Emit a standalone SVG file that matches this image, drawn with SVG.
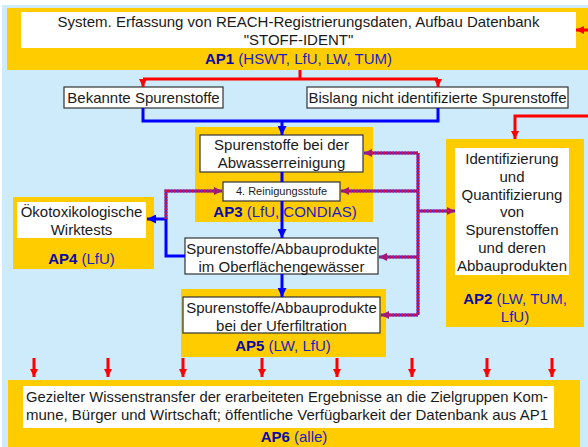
<svg xmlns="http://www.w3.org/2000/svg" width="588" height="447" viewBox="0 0 588 447">
<defs>
<style>
text{font-family:"Liberation Sans",Arial,sans-serif;fill:#1a1a1a;font-size:15px}
.c{text-anchor:middle}
.lbl{fill:#1c1cc8}
.b{font-weight:bold;fill:#0a0aa8}
.y{fill:#FFCC00}
.w{fill:#fff}
.wb{fill:#fff;stroke:#333;stroke-width:1.2}
.red{stroke:#f00;stroke-width:3;fill:none}
.blue{stroke:#00f;stroke-width:3;fill:none}
.pb{stroke:#5a20c8;stroke-width:3;fill:none}
.pr{stroke:#e0103a;stroke-width:3;fill:none;stroke-dasharray:1.5 1.5}
</style>
<marker id="ar" viewBox="0 0 10 10" refX="10" refY="5" markerWidth="8" markerHeight="8" markerUnits="userSpaceOnUse" orient="auto"><path d="M0,0 L10,5 L0,10 z" fill="#f00"/></marker>
<marker id="ab" viewBox="0 0 10 10" refX="10" refY="5" markerWidth="9" markerHeight="9" markerUnits="userSpaceOnUse" orient="auto"><path d="M0,0 L10,5 L0,10 z" fill="#00f"/></marker>
<marker id="ap" viewBox="0 0 10 10" refX="10" refY="5" markerWidth="8" markerHeight="8" markerUnits="userSpaceOnUse" orient="auto"><path d="M0,0 L10,5 L0,10 z" fill="#a01a7a"/></marker>
</defs>
<rect x="0" y="0" width="588" height="447" fill="#fff"/>
<rect x="2" y="5" width="586" height="442" fill="#CDEBFB"/>

<g id="ap1">
<rect class="y" x="7" y="8" width="581" height="62"/>
<rect class="w" x="21" y="12" width="555" height="36"/>
<text class="c" x="298.5" y="27">System. Erfassung von REACH-Registrierungsdaten, Aufbau Datenbank</text>
<text class="c" x="298.5" y="45">"STOFF-IDENT"</text>
<text class="c lbl" x="298.5" y="64"><tspan class="b">AP1</tspan> (HSWT, LfU, LW, TUM)</text>
</g>

<g id="bekannte">
<rect class="wb" x="64" y="87" width="159" height="21"/>
<text class="c" x="143.5" y="103">Bekannte Spurenstoffe</text>
</g>
<g id="bislang">
<rect class="wb" x="307" y="87" width="261" height="21"/>
<text class="c" x="437.5" y="103">Bislang nicht identifizierte Spurenstoffe</text>
</g>

<g id="ap3">
<rect class="y" x="195" y="127" width="178" height="95"/>
<rect class="wb" x="200" y="135" width="163" height="37"/>
<text class="c" x="281.5" y="150">Spurenstoffe bei der</text>
<text class="c" x="281.5" y="168">Abwasserreinigung</text>
<rect class="wb" x="223" y="182" width="117" height="19"/>
<text class="c" x="281.5" y="195" style="font-size:11px">4. Reinigungsstufe</text>
<text class="c lbl" x="285" y="217"><tspan class="b">AP3</tspan> (LfU, CONDIAS)</text>
</g>

<g id="ap4">
<rect class="y" x="13" y="197" width="141" height="72"/>
<rect class="w" x="17" y="202" width="129" height="36"/>
<text class="c" x="81.5" y="217">Ökotoxikologische</text>
<text class="c" x="81.5" y="235">Wirktests</text>
<text class="c lbl" x="81.5" y="264"><tspan class="b">AP4</tspan> (LfU)</text>
</g>

<g id="oberflaeche">
<rect class="wb" x="185" y="238" width="193" height="36"/>
<text class="c" x="281.5" y="254">Spurenstoffe/Abbauprodukte</text>
<text class="c" x="281.5" y="272">im Oberflächengewässer</text>
</g>

<g id="ap5">
<rect class="y" x="181" y="289" width="205" height="68"/>
<rect class="wb" x="183" y="297" width="197" height="36"/>
<text class="c" x="281.5" y="313">Spurenstoffe/Abbauprodukte</text>
<text class="c" x="281.5" y="331">bei der Uferfiltration</text>
<text class="c lbl" x="283" y="351"><tspan class="b">AP5</tspan> (LW, LfU)</text>
</g>

<g id="ap2">
<rect class="y" x="446" y="139" width="138" height="188"/>
<rect class="w" x="455" y="148" width="114" height="127"/>
<text class="c" x="512" y="164">Identifizierung</text>
<text class="c" x="512" y="182">und</text>
<text class="c" x="512" y="200">Quantifizierung</text>
<text class="c" x="512" y="217">von</text>
<text class="c" x="512" y="235">Spurenstoffen</text>
<text class="c" x="512" y="253">und deren</text>
<text class="c" x="512" y="271">Abbauprodukten</text>
<text class="c lbl" x="515" y="304"><tspan class="b">AP2</tspan> (LW, TUM,</text>
<text class="c lbl" x="515" y="322">LfU)</text>
</g>

<g id="ap6">
<rect class="y" x="8" y="380" width="572" height="67"/>
<rect class="w" x="23" y="386" width="531" height="42"/>
<text x="26" y="402" textLength="522" lengthAdjust="spacingAndGlyphs">Gezielter Wissenstransfer der erarbeiteten Ergebnisse an die Zielgruppen Kom-</text>
<text x="26" y="420" textLength="522" lengthAdjust="spacingAndGlyphs">mune, Bürger und Wirtschaft; öffentliche Verfügbarkeit der Datenbank aus AP1</text>
<text class="c lbl" x="294" y="442"><tspan class="b">AP6</tspan> (alle)</text>
</g>

<g id="connectors">
<path class="red" d="M300,70 V79"/>
<path class="red" d="M143,79 H438"/>
<path class="red" d="M143,79 V87" marker-end="url(#ar)"/>
<path class="red" d="M438,79 V87" marker-end="url(#ar)"/>
<path class="red" d="M588,30 H576" marker-end="url(#ar)"/>
<path class="red" d="M588,116 H515 V139" marker-end="url(#ar)"/>
<path class="blue" d="M143,108 V121 H438 V108"/>
<path class="blue" d="M282,121 V135" marker-end="url(#ab)"/>
<path class="blue" d="M282,172 V182"/>
<path class="blue" d="M282,201 V238" marker-end="url(#ab)"/>
<path class="blue" d="M282,274 V297" marker-end="url(#ab)"/>
<path class="blue" d="M185,256 H166 V219 H147" marker-end="url(#ab)"/>
<g>
<path class="pb" d="M418,153 V315"/>
<path class="pr" d="M418,153 V315"/>
<path class="pb" d="M418,153 H364" marker-end="url(#ap)"/>
<path class="pr" d="M418,153 H370"/>
<path class="pb" d="M418,191 H341" marker-end="url(#ap)"/>
<path class="pr" d="M418,191 H347"/>
<path class="pb" d="M418,211 H455" marker-end="url(#ap)"/>
<path class="pr" d="M418,211 H449"/>
<path class="pb" d="M418,257 H379" marker-end="url(#ap)"/>
<path class="pr" d="M418,257 H385"/>
<path class="pb" d="M418,315 H381" marker-end="url(#ap)"/>
<path class="pr" d="M418,315 H387"/>
<path class="pb" d="M166,219 V191 H222" marker-end="url(#ap)"/>
<path class="pr" d="M166,219 V191 H216"/>
</g>
<g>
<path class="red" d="M34,358 V377" marker-end="url(#ar)"/>
<path class="red" d="M108,358 V377" marker-end="url(#ar)"/>
<path class="red" d="M183,358 V377" marker-end="url(#ar)"/>
<path class="red" d="M262,358 V377" marker-end="url(#ar)"/>
<path class="red" d="M337,358 V377" marker-end="url(#ar)"/>
<path class="red" d="M412,358 V377" marker-end="url(#ar)"/>
<path class="red" d="M487,358 V377" marker-end="url(#ar)"/>
<path class="red" d="M552,358 V377" marker-end="url(#ar)"/>
</g>
</g>
</svg>
